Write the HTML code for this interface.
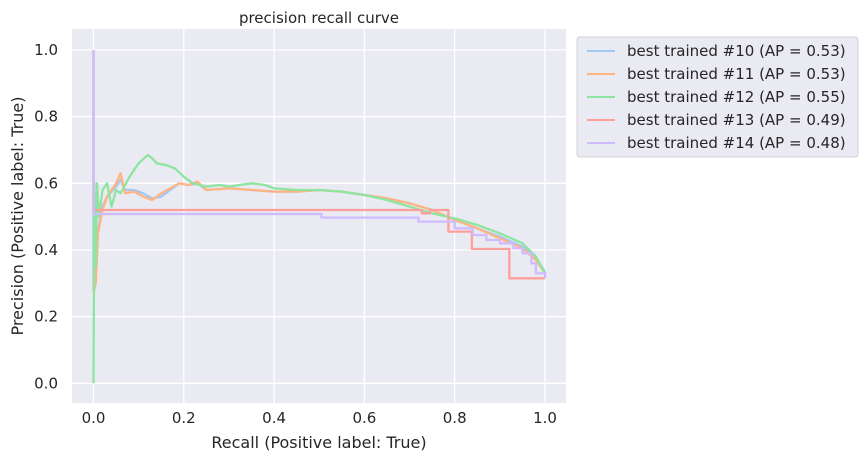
<!DOCTYPE html>
<html><head><meta charset="utf-8"><style>
body{margin:0;background:#fff;font-family:"Liberation Sans","DejaVu Sans",sans-serif}
svg text{font-family:"DejaVu Sans","Liberation Sans",sans-serif;fill:#262626}
</style></head><body>
<svg id="chart" width="864" height="463" viewBox="0 0 864 463">
<rect x="72" y="29" width="494" height="374" fill="#eaeaf2"/>
<g id="grid"></g><g id="series"></g><g id="ticks"></g>
<text x="319" y="23" text-anchor="middle" font-size="15">precision recall curve</text>
<text x="319" y="448" text-anchor="middle" font-size="16">Recall (Positive label: True)</text>
<text x="23" y="216" text-anchor="middle" font-size="16" transform="rotate(-90 23 216)">Precision (Positive label: True)</text>
<g id="legend"><rect x="577" y="37" width="281" height="120" rx="3" fill="#eaeaf2" stroke="#d0d0d8"/></g>
</svg>
<script>
const xTicks=[0,0.2,0.4,0.6,0.8,1.0];
const yTicks=[0,0.2,0.4,0.6,0.8,1.0];
const names=["best trained #10 (AP = 0.53)","best trained #11 (AP = 0.53)","best trained #12 (AP = 0.55)","best trained #13 (AP = 0.49)","best trained #14 (AP = 0.48)"];
const colors=["#a1c9f4","#ffb482","#8de5a1","#ff9f9b","#d0bbff"];
const recall10=[0,0,0.005,0.01,0.02,0.03,0.05,0.06,0.07,0.09,0.11,0.13,0.15,0.17,0.19,0.21,0.23,0.25,0.3,0.35,0.4,0.45,0.5,0.55,0.6,0.65,0.7,0.75,0.8,0.85,0.9,0.95,0.98,1.0];
const prec10=[1.0,0.28,0.32,0.46,0.53,0.56,0.59,0.61,0.58,0.58,0.57,0.555,0.56,0.58,0.6,0.595,0.6,0.58,0.585,0.58,0.575,0.575,0.58,0.575,0.565,0.555,0.54,0.52,0.49,0.465,0.44,0.41,0.375,0.335];
const recall11=[0,0.005,0.01,0.02,0.03,0.05,0.06,0.07,0.09,0.11,0.13,0.15,0.17,0.19,0.21,0.23,0.25,0.3,0.35,0.4,0.45,0.5,0.55,0.6,0.65,0.7,0.75,0.8,0.85,0.9,0.95,0.98,1.0];
const prec11=[0.27,0.3,0.45,0.52,0.56,0.6,0.63,0.57,0.575,0.56,0.55,0.57,0.585,0.6,0.595,0.605,0.58,0.585,0.58,0.575,0.575,0.58,0.575,0.565,0.555,0.54,0.52,0.49,0.465,0.435,0.405,0.37,0.33];
const recall12=[0,0.002,0.005,0.008,0.012,0.02,0.03,0.04,0.05,0.06,0.08,0.1,0.12,0.13,0.14,0.16,0.18,0.2,0.22,0.25,0.28,0.3,0.35,0.38,0.4,0.45,0.5,0.55,0.6,0.65,0.7,0.75,0.8,0.85,0.9,0.95,0.98,1.0];
const prec12=[0,0.6,0.35,0.6,0.5,0.58,0.6,0.53,0.58,0.57,0.62,0.66,0.685,0.675,0.66,0.655,0.645,0.62,0.6,0.59,0.595,0.59,0.6,0.595,0.585,0.58,0.58,0.575,0.565,0.55,0.53,0.51,0.495,0.475,0.45,0.42,0.38,0.33];
const recall13=[0,0,0.727,0.745,0.786,0.838,0.921,1.0];
const prec13=[1.0,0.52,0.51,0.52,0.455,0.403,0.315,0.315];
const recall14=[0,0,0.505,0.72,0.80,0.84,0.87,0.9,0.93,0.95,0.97,0.98,1.0];
const prec14=[1.0,0.508,0.497,0.485,0.465,0.445,0.43,0.42,0.405,0.39,0.36,0.33,0.315];
const seriesR=[recall10,recall11,recall12,recall13,recall14];
const seriesP=[prec10,prec11,prec12,prec13,prec14];
const X=v=>93.5+v*451.5, Y=v=>383.3-v*333.3;
const NS="http://www.w3.org/2000/svg";
const mk=(t,a,p)=>{const e=document.createElementNS(NS,t);for(const k in a)e.setAttribute(k,a[k]);p.appendChild(e);return e;};
const grid=document.getElementById('grid'),ticks=document.getElementById('ticks');
xTicks.forEach(v=>{const l=mk('line',{x1:X(v),x2:X(v),y1:29,y2:403,stroke:'#fff','stroke-width':1.3},grid);

const t=mk('text',{x:X(v),y:423,'text-anchor':'middle','font-size':15},ticks);t.textContent=v.toFixed(1);
});
yTicks.forEach(v=>{const l=mk('line',{x1:72,x2:566,y1:Y(v),y2:Y(v),stroke:'#fff','stroke-width':1.3},grid);

const t=mk('text',{x:58,y:Y(v)+5,'text-anchor':'end','font-size':15},ticks);t.textContent=v.toFixed(1);
});
const sg=document.getElementById('series');
seriesR.forEach((r,i)=>{const p=seriesP[i];let pts=[];
for(let j=0;j<r.length;j++){if(i>=3&&j>0)pts.push(X(r[j])+','+Y(p[j-1]));pts.push(X(r[j])+','+Y(p[j]));}
const pl=mk('polyline',{points:pts.join(' '),fill:'none',stroke:colors[i],'stroke-width':2.3,'stroke-linejoin':'round'},sg);
});
const lg=document.getElementById('legend');
names.forEach((n,i)=>{const y=51+i*23;
const l=mk('line',{x1:587,x2:615,y1:y,y2:y,stroke:colors[i],'stroke-width':2},lg);

const t=mk('text',{x:627,y:y+5,'font-size':15},lg);t.textContent=n;
});
</script>
</body></html>
